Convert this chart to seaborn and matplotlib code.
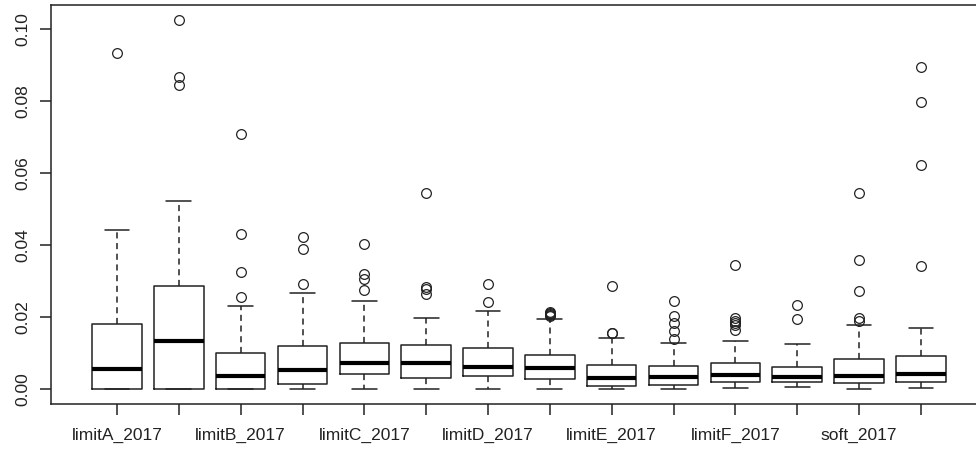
import matplotlib
matplotlib.use("Agg")
import matplotlib.pyplot as plt
import seaborn as sns

# Labels (R only prints every other one, the rest overlap and are dropped)
tick_labels = ["limitA_2017", "", "limitB_2017", "", "limitC_2017", "",
               "limitD_2017", "", "limitE_2017", "", "limitF_2017", "",
               "soft_2017", ""]

# Five-number summaries
whisker_low = [0.0, 0.0, 0.0, 0.0, 0.0, 0.0, 0.0,
               0.0, 0.0, 0.0, 0.0004, 0.0006, 0.0, 0.0003]
q1 = [0.0, 0.0, 0.0, 0.0015, 0.0041, 0.0031, 0.0038,
      0.0028, 0.0009, 0.0013, 0.0020, 0.0019, 0.0017, 0.0019]
median = [0.0056, 0.0133, 0.0038, 0.0053, 0.0074, 0.0072, 0.0061,
          0.0058, 0.0030, 0.0033, 0.0040, 0.0034, 0.0038, 0.0043]
q3 = [0.0182, 0.0287, 0.0102, 0.0121, 0.0128, 0.0122, 0.0115,
      0.0095, 0.0068, 0.0064, 0.0074, 0.0063, 0.0083, 0.0093]
whisker_high = [0.0442, 0.0523, 0.0230, 0.0268, 0.0246, 0.0198, 0.0218,
                0.0195, 0.0141, 0.0129, 0.0134, 0.0127, 0.0178, 0.0170]
outliers = [
    [0.0933],
    [0.1026, 0.0866, 0.0844],
    [0.0709, 0.0430, 0.0325, 0.0257],
    [0.0423, 0.0389, 0.0291],
    [0.0404, 0.0320, 0.0307, 0.0276],
    [0.0546, 0.0285, 0.0277, 0.0264],
    [0.0293, 0.0242],
    [0.0214, 0.0211, 0.0208, 0.0205, 0.0203],
    [0.0287, 0.0157, 0.0155],
    [0.0246, 0.0204, 0.0183, 0.0161, 0.0139],
    [0.0345, 0.0197, 0.0190, 0.0185, 0.0178, 0.0164],
    [0.0233, 0.0196],
    [0.0546, 0.0358, 0.0274, 0.0197, 0.0190],
    [0.0894, 0.0797, 0.0624, 0.0342],
]

sns.set_style("ticks")
plt.rcParams["font.family"] = ["Liberation Sans", "DejaVu Sans"]

stats = []
for i in range(len(median)):
    stats.append(dict(whislo=whisker_low[i], q1=q1[i], med=median[i],
                      q3=q3[i], whishi=whisker_high[i], fliers=outliers[i]))

fig = plt.figure(figsize=(9.76, 4.5), dpi=100)
ax = fig.add_axes([0.0527, 0.1022, 0.958, 0.8867])
positions = list(range(1, len(median) + 1))

ax.bxp(stats, positions=positions, widths=0.8, capwidths=0.4,
       boxprops=dict(color="#222222", linewidth=1.1),
       whiskerprops=dict(color="#222222", linewidth=1.1, linestyle=(0, (4, 3))),
       capprops=dict(color="#222222", linewidth=1.1),
       medianprops=dict(color="black", linewidth=3.0, solid_capstyle="butt"),
       flierprops=dict(marker="o", markersize=7, markerfacecolor="none",
                       markeredgecolor="#222222", markeredgewidth=0.9),
       manage_ticks=False)

ax.set_xlim(-0.06, 15.06)
ax.set_ylim(-0.0041, 0.1067)
ax.set_xticks(positions)
ax.set_xticklabels(tick_labels)
ax.set_yticks([0.0, 0.02, 0.04, 0.06, 0.08, 0.10])
ax.set_yticklabels(["0.00", "0.02", "0.04", "0.06", "0.08", "0.10"],
                   rotation=90, va="center")

for side in ["top", "right", "left", "bottom"]:
    ax.spines[side].set_visible(True)
    ax.spines[side].set_color("#222222")
    ax.spines[side].set_linewidth(1.1)

ax.tick_params(axis="both", direction="out", length=8, width=1.1,
               color="#222222", labelsize=12.5, labelcolor="#222222")
ax.tick_params(axis="x", pad=9)
ax.tick_params(axis="y", pad=7)

fig.savefig("out.png", dpi=100)
